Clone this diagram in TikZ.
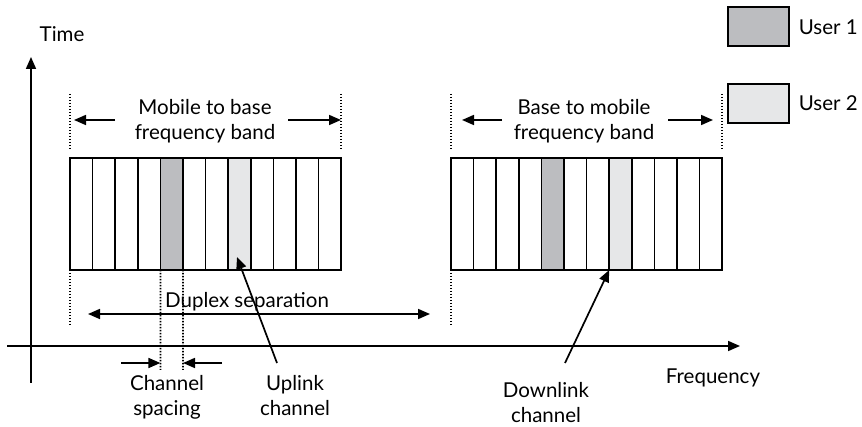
\documentclass[tikz,border=0pt]{standalone}
\usepackage{fontspec}
\setmainfont{Lato}
\usetikzlibrary{arrows.meta}
\definecolor{uone}{RGB}{188,189,192}
\definecolor{utwo}{RGB}{230,231,232}
\begin{document}
\begin{tikzpicture}[x=1pt,y=-1pt,line width=1.7pt,
  lbl/.style={font=\fontsize{20.5}{25}\selectfont, align=center, inner sep=0pt},
  chan/.style={draw, minimum width=22.6pt, minimum height=112pt, inner sep=0pt, outer sep=0pt, anchor=north west},
  legbox/.style={draw, minimum width=61pt, minimum height=39pt, inner sep=0pt, outer sep=0pt},
  dots/.style={line width=1.8pt, dash pattern=on 1.5pt off 1.5pt},
  arr/.style={-{Triangle[length=12pt,width=10pt]}},
  darr/.style={{Triangle[length=12pt,width=10pt]}-{Triangle[length=12pt,width=10pt]}}]
\useasboundingbox (0,0) rectangle (862,427);
% axes
\coordinate (tbot) at (31,383);
\coordinate (ttop) at (31,57);
\coordinate (fl) at (7,346);
\coordinate (fr) at (740,346);
\draw[arr] (tbot) -- (ttop);
\draw[arr] (fl) -- (fr);
\node[lbl] (time) at (62,34) {Time};
\node[lbl,anchor=base] (freq) at (713,384) {Frequency};
% bands
\foreach \i/\c in {0/white,1/white,2/white,3/white,4/uone,5/white,6/white,7/utwo,8/white,9/white,10/white,11/white}{
  \node[chan,fill=\c] (L\i) at ({70+\i*22.6},158) {};
  \node[chan,fill=\c] (R\i) at ({451+\i*22.6},158) {};
}
% top dotted markers
\foreach \n/\x in {a/70,b/341,c/451,d/722}{
  \coordinate (\n t) at (\x,94);
  \coordinate (\n b) at (\x,149);
  \draw[dots] (\n t) -- (\n b);
}
\node[lbl] (mb) at (205,121) {Mobile to base\\frequency band};
\node[lbl] (bm) at (584,121) {Base to mobile\\frequency band};
\coordinate (mbl) at (74,120); \coordinate (mbr) at (341,120);
\coordinate (bml) at (462,120); \coordinate (bmr) at (713,120);
\draw[arr] (115,120) -- (mbl);
\draw[arr] (288,120) -- (mbr);
\draw[arr] (502,120) -- (bml);
\draw[arr] (668,120) -- (bmr);
% bottom dotted lines
\coordinate (ld) at (70,327);
\coordinate (rd) at (451,327);
\draw[dots] (L0.south west) -- (ld);
\draw[dots] (R0.south west) -- (rd);
\coordinate (cs1) at (160.4,370);
\coordinate (cs2) at (183,370);
\draw[dots] (L4.south west) -- (cs1);
\draw[dots] (L4.south east) -- (cs2);
% duplex separation
\coordinate (dxl) at (88,314);
\coordinate (dxr) at (430,314);
\draw[darr] (dxl) -- (dxr);
\node[lbl,anchor=base] (duplex) at (247,308) {Duplex separation};
% channel spacing
\coordinate (csl) at (121,363);
\coordinate (csr) at (222,363);
\draw[arr] (csl) -- (cs1 |- csl);
\draw[arr] (csr) -- (cs2 |- csr);
\node[lbl] (chsp) at (167,397) {Channel\\spacing};
% uplink / downlink
\node[lbl] (up) at (295,396) {Uplink\\channel};
\node[lbl] (down) at (546,403) {Downlink\\channel};
\coordinate (upt) at (237,257);
\coordinate (upf) at (277,363);
\draw[arr] (upf) -- (upt);
\coordinate (dnf) at (565,363);
\draw[arr] (dnf) -- (R7.south west);
% legend
\node[legbox,fill=uone] (u1) at (758.5,26.5) {};
\node[legbox,fill=utwo] (u2) at (758.5,103.5) {};
\node[lbl,anchor=west] (u1t) at (798,27) {User 1};
\node[lbl,anchor=west] (u2t) at (798,103) {User 2};
\end{tikzpicture}
\end{document}
